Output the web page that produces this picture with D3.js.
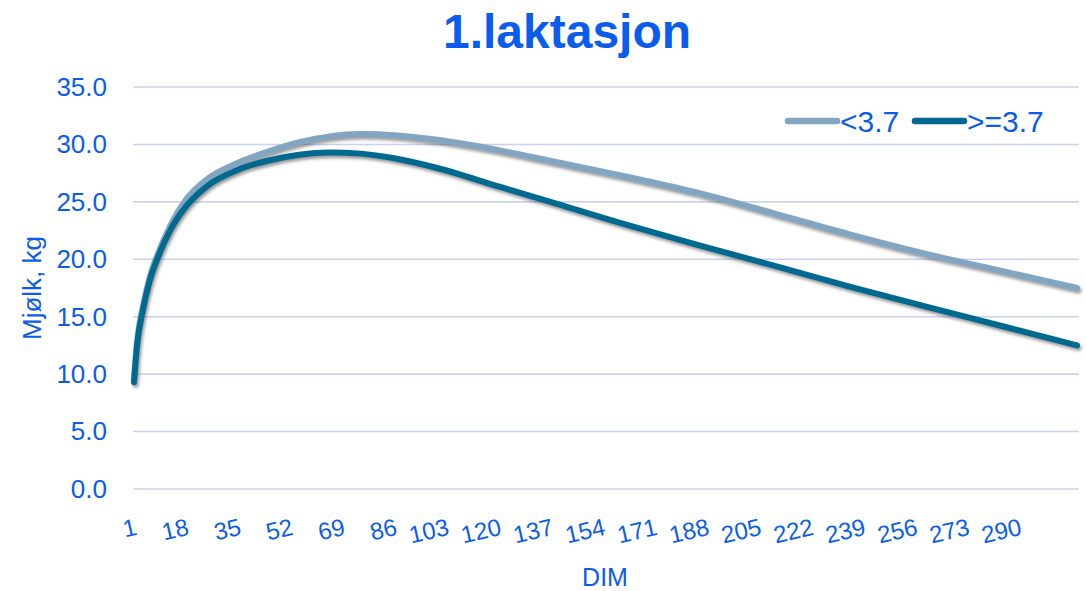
<!DOCTYPE html>
<html>
<head>
<meta charset="utf-8">
<script src="https://cdn.jsdelivr.net/npm/d3@7"></script>
<style>
  html, body { margin: 0; padding: 0; background: #fff; }
  svg { display: block; font-family: "Liberation Sans", Arial, sans-serif; }
</style>
</head>
<body>
<svg></svg>
<script>
// Dager i melking (DIM) hvor kurvene er avlest
const days = [1, 2, 4, 6, 9, 13, 18, 25, 35, 45, 55, 65, 75, 86, 100, 120, 140, 160, 185, 210, 235, 260, 285, 309];
// Mjølk, kg — gruppe <3.7
const under37 = [9.5, 12.8, 16.0, 18.3, 20.6, 23.0, 25.2, 27.0, 28.4, 29.4, 30.2, 30.7, 30.9, 30.8, 30.4, 29.5, 28.4, 27.3, 25.8, 24.0, 22.15, 20.45, 18.95, 17.5];
// Mjølk, kg — gruppe >=3.7
const over37 = [9.3, 12.5, 15.7, 18.0, 20.3, 22.6, 24.6, 26.4, 27.8, 28.6, 29.1, 29.3, 29.2, 28.8, 27.95, 26.35, 24.75, 23.15, 21.25, 19.45, 17.6, 15.85, 14.15, 12.5];
// Aksetekster
const xTickLabels = [1, 18, 35, 52, 69, 86, 103, 120, 137, 154, 171, 188, 205, 222, 239, 256, 273, 290];
const yTicks = [0, 5, 10, 15, 20, 25, 30, 35];
const seriesNames = ["<3.7", ">=3.7"];
const seriesColors = ["#82a5c2", "#00698f"];

const width = 1086;
const height = 591;
const textColor = "#0b5cec";

const svg = d3.select("svg")
    .attr("width", width)
    .attr("height", height)
    .attr("viewBox", [0, 0, width, height]);

// skygge under linjene
const defs = svg.append("defs");
defs.append("filter")
    .attr("id", "shadow")
    .attr("x", "-5%").attr("y", "-5%")
    .attr("width", "110%").attr("height", "120%")
  .append("feDropShadow")
    .attr("dx", 1.5)
    .attr("dy", 2.5)
    .attr("stdDeviation", 1.6)
    .attr("flood-color", "#444")
    .attr("flood-opacity", 0.55);

const x = d3.scaleLinear()
    .domain([1, 309])
    .range([134, 1077]);

const y = d3.scaleLinear()
    .domain([0, 35])
    .range([489, 87]);

// tittel
svg.append("text")
    .attr("x", 567)
    .attr("y", 48)
    .attr("text-anchor", "middle")
    .attr("fill", textColor)
    .attr("font-weight", "bold")
    .attr("font-size", 48)
    .text("1.laktasjon");

// y-akse med rutenett
svg.append("g")
    .call(d3.axisLeft(y).tickValues(yTicks).tickFormat(d3.format(".1f")).tickSize(0).tickPadding(0))
    .attr("transform", "translate(107,0)")
    .call(g => g.select(".domain").remove())
    .call(g => g.selectAll(".tick text")
        .attr("fill", textColor)
        .attr("font-size", 26)
        .attr("font-family", "Liberation Sans, Arial, sans-serif"));

svg.append("g")
  .selectAll("line")
  .data(yTicks)
  .join("line")
    .attr("x1", 133)
    .attr("x2", 1079)
    .attr("y1", d => y(d))
    .attr("y2", d => y(d))
    .attr("stroke", "#c9d2f2")
    .attr("stroke-width", 1.6);

svg.append("text")
    .attr("transform", `translate(41,${288}) rotate(-90)`)
    .attr("text-anchor", "middle")
    .attr("fill", textColor)
    .attr("font-size", 26)
    .text("Mjølk, kg");

// x-akse
svg.append("g")
  .selectAll("text")
  .data(xTickLabels)
  .join("text")
    .attr("transform", d => `translate(${x(d)},${517}) rotate(-13)`)
    .attr("text-anchor", "end")
    .attr("dy", "0.75em")
    .attr("fill", textColor)
    .attr("font-size", 24)
    .text(d => d);

svg.append("text")
    .attr("x", 605)
    .attr("y", 586)
    .attr("text-anchor", "middle")
    .attr("fill", textColor)
    .attr("font-size", 25)
    .text("DIM");

// linjene
const line = d3.line()
    .x((d, i) => x(days[i]))
    .y(d => y(d))
    .curve(d3.curveMonotoneX);

svg.append("g")
    .attr("filter", "url(#shadow)")
  .selectAll("path")
  .data([under37, over37])
  .join("path")
    .attr("fill", "none")
    .attr("stroke", (d, i) => seriesColors[i])
    .attr("stroke-width", 6)
    .attr("stroke-linecap", "round")
    .attr("stroke-linejoin", "round")
    .attr("d", line);

// forklaring
const legendX = [788, 915];
const legend = svg.append("g")
  .selectAll("g")
  .data(seriesNames)
  .join("g")
    .attr("transform", (d, i) => `translate(${legendX[i]},121)`);

legend.append("line")
    .attr("x1", 0)
    .attr("x2", 49)
    .attr("stroke", (d, i) => seriesColors[i])
    .attr("stroke-width", 6.5)
    .attr("stroke-linecap", "round");

legend.append("text")
    .attr("x", 52)
    .attr("dy", "0.36em")
    .attr("fill", textColor)
    .attr("font-size", 30)
    .text(d => d);
</script>
</body>
</html>
